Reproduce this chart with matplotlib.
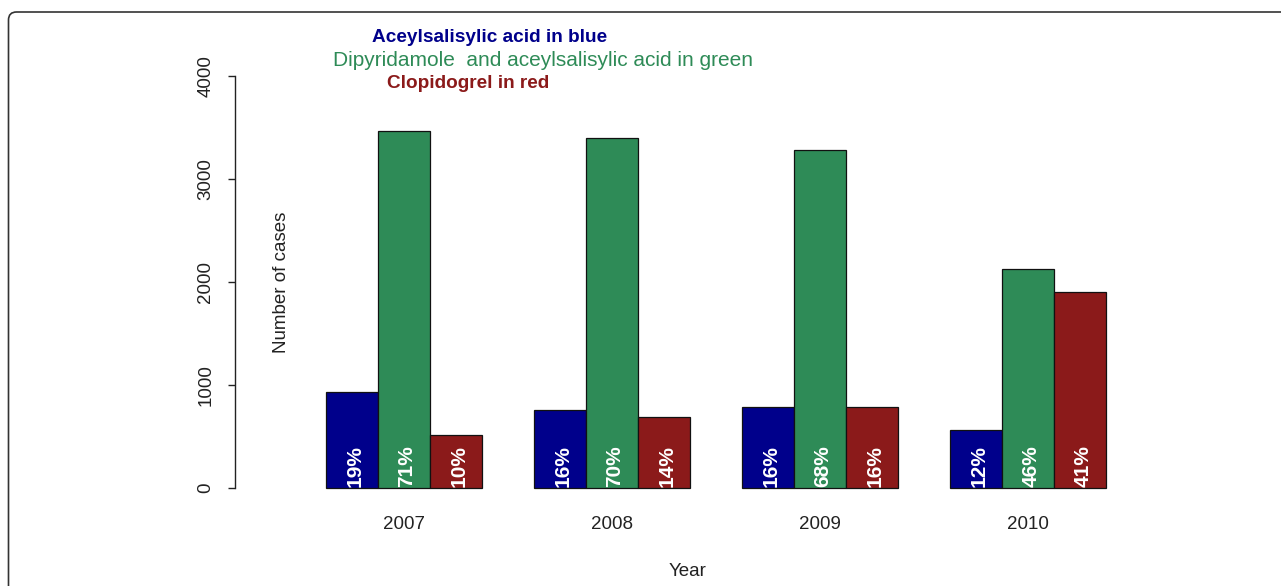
import matplotlib
matplotlib.use("Agg")
import matplotlib.pyplot as plt
import matplotlib.patches as mpatches
import matplotlib.transforms as mtransforms
import numpy as np

plt.rcParams["font.family"] = ["Liberation Sans", "DejaVu Sans"]

# values
years = ["2007", "2008", "2009", "2010"]
asa = [934, 760, 786, 559]
dipy_asa = [3469, 3401, 3282, 2130]
clopidogrel = [510, 689, 782, 1907]

asa_pct = ["19%", "16%", "16%", "12%"]
dipy_asa_pct = ["71%", "70%", "68%", "46%"]
clopidogrel_pct = ["10%", "14%", "16%", "41%"]

legend_lines = [
    "Aceylsalisylic acid in blue",
    "Dipyridamole  and aceylsalisylic acid in green",
    "Clopidogrel in red",
]

BLUE = "#00008B"
GREEN = "#2E8B57"
RED = "#8B1A1A"

W, H = 1281, 586
fig = plt.figure(figsize=(W / 100, H / 100), dpi=100)

# axes placed in pixel terms: y 0 -> 488px, 4000 -> 76px
ax_left, ax_right = 235, 1157.7
ax = fig.add_axes([ax_left / W, (H - 488) / H, (ax_right - ax_left) / W, (488 - 76) / H])
ax.set_xlim(-0.744, 17)
ax.set_ylim(0, 4000)

series = [(asa, asa_pct, BLUE), (dipy_asa, dipy_asa_pct, GREEN),
          (clopidogrel, clopidogrel_pct, RED)]
group_left = 1 + 4 * np.arange(len(years))

for i, (vals, pcts, col) in enumerate(series):
    xs = group_left + i + 0.5
    ax.bar(xs, vals, width=1, color=col, edgecolor="#111111", linewidth=0.9, clip_on=False)
    for x, p in zip(xs, pcts):
        ax.text(x + 0.06, 8, p, rotation=90, ha="center", va="bottom", color="white",
                fontsize=15, fontweight="bold")

for s in ["top", "right", "bottom"]:
    ax.spines[s].set_visible(False)
ax.spines["left"].set_linewidth(1.0)
ax.spines["left"].set_color("#222222")

ax.set_yticks([0, 1000, 2000, 3000, 4000])
ax.set_yticklabels(["0", "1000", "2000", "3000", "4000"], rotation=90, va="center")
ax.tick_params(axis="y", length=5, width=1.0, color="#222222", labelsize=13.5, pad=10,
               labelcolor="#222222")

ax.set_xticks(group_left + 1.5)
ax.set_xticklabels(years)
ax.tick_params(axis="x", length=0, labelsize=13.5, pad=20, labelcolor="#222222")

fig.text(281 / W, 1 - 282 / H, "Number of cases", rotation=90, ha="center", va="center",
         fontsize=13.5, color="#222222")
fig.text(688 / W, 1 - 572 / H, "Year", ha="center", va="center", fontsize=13.5,
         color="#222222")

fig.text(490 / W, 1 - 37 / H, legend_lines[0], ha="center", va="center",
         fontsize=13.7, fontweight="bold", color=BLUE)
fig.text(543 / W, 1 - 60 / H, legend_lines[1], ha="center", va="center",
         fontsize=15, color=GREEN)
fig.text(468 / W, 1 - 83 / H, legend_lines[2], ha="center", va="center",
         fontsize=13.7, fontweight="bold", color=RED)

# rounded frame running off the right and bottom edges
frame = mpatches.FancyBboxPatch((8.5, -60), 1400, 574 + 60,
                                boxstyle="round,pad=0,rounding_size=8",
                                transform=mtransforms.IdentityTransform(),
                                fill=False, edgecolor="#333333", linewidth=1.2)
fig.add_artist(frame)

fig.savefig("out.png", dpi=100)
